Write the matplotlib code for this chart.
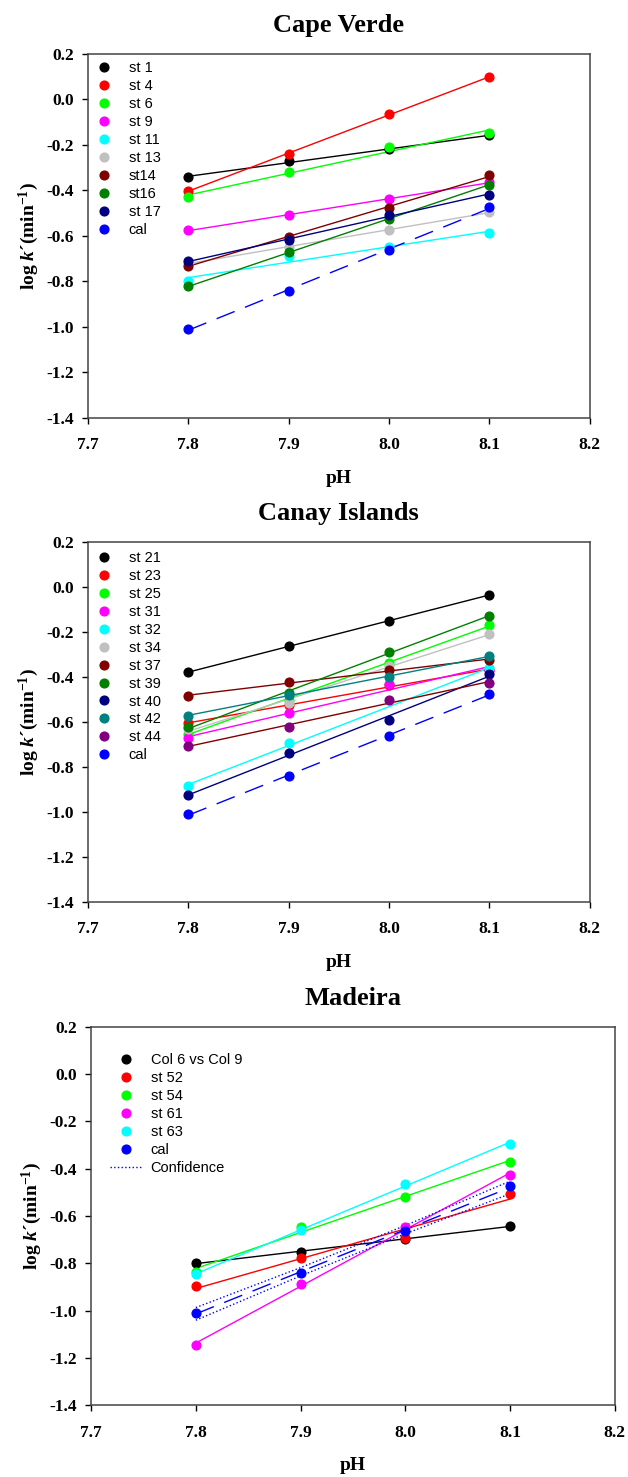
import numpy as np
import matplotlib
matplotlib.use("Agg")
import matplotlib.pyplot as plt
from matplotlib.lines import Line2D

# 字体设置
plt.rcParams['font.family'] = 'Liberation Serif'
plt.rcParams['font.weight'] = 'bold'
plt.rcParams['mathtext.fontset'] = 'custom'
plt.rcParams['mathtext.rm'] = 'Liberation Serif:bold'
plt.rcParams['mathtext.it'] = 'Liberation Serif:bold:italic'
plt.rcParams['mathtext.bf'] = 'Liberation Serif:bold'

ph = [7.8, 7.9, 8.0, 8.1]
cal = [-1.009, -0.841, -0.663, -0.474]

# Cape Verde
cv_names = ['st 1', 'st 4', 'st 6', 'st 9', 'st 11', 'st 13', 'st14', 'st16', 'st 17']
cv_colors = ['#000000', '#ff0000', '#00ff00', '#ff00ff', '#00ffff', '#c0c0c0', '#800000', '#008000', '#000080']
cv_st1 = [-0.341, -0.272, -0.220, -0.158]
cv_st4 = [-0.402, -0.239, -0.066, 0.099]
cv_st6 = [-0.429, -0.320, -0.211, -0.148]
cv_st9 = [-0.575, -0.508, -0.439, -0.364]
cv_st11 = [-0.800, -0.690, -0.647, -0.588]
cv_st13 = [-0.720, -0.647, -0.576, -0.495]
cv_st14 = [-0.730, -0.603, -0.479, -0.333]
cv_st16 = [-0.822, -0.672, -0.526, -0.374]
cv_st17 = [-0.712, -0.617, -0.508, -0.418]
cv_vals = [cv_st1, cv_st4, cv_st6, cv_st9, cv_st11, cv_st13, cv_st14, cv_st16, cv_st17]

# Canay Islands
ci_names = ['st 21', 'st 23', 'st 25', 'st 31', 'st 32', 'st 34', 'st 37', 'st 39', 'st 40', 'st 42', 'st 44']
ci_colors = ['#000000', '#ff0000', '#00ff00', '#ff00ff', '#00ffff', '#c0c0c0', '#800000', '#008000', '#000080', '#008080', '#800080']
ci_line_colors = ['#000000', '#ff0000', '#00ff00', '#ff00ff', '#00ffff', '#c0c0c0', '#800000', '#008000', '#000080', '#008080', '#800000']
ci_st21 = [-0.378, -0.263, -0.152, -0.034]
ci_st23 = [-0.606, -0.525, -0.435, -0.370]
ci_st25 = [-0.651, -0.500, -0.337, -0.170]
ci_st31 = [-0.673, -0.562, -0.432, -0.370]
ci_st32 = [-0.884, -0.695, np.nan, -0.362]
ci_st34 = [-0.630, -0.517, -0.352, -0.207]
ci_st37 = [-0.485, -0.424, -0.367, -0.325]
ci_st39 = [-0.624, -0.473, -0.288, -0.128]
ci_st40 = [-0.924, -0.739, -0.591, -0.387]
ci_st42 = [-0.571, -0.480, -0.399, -0.307]
ci_st44 = [-0.707, -0.621, -0.503, -0.426]
ci_vals = [ci_st21, ci_st23, ci_st25, ci_st31, ci_st32, ci_st34, ci_st37, ci_st39, ci_st40, ci_st42, ci_st44]

# Madeira
md_names = ['Col 6 vs Col 9', 'st 52', 'st 54', 'st 61', 'st 63']
md_colors = ['#000000', '#ff0000', '#00ff00', '#ff00ff', '#00ffff']
md_col6 = [-0.799, -0.752, -0.698, -0.642]
md_st52 = [-0.897, -0.777, -0.691, -0.505]
md_st54 = [-0.837, -0.646, -0.519, -0.371]
md_st61 = [-1.147, -0.889, -0.646, -0.428]
md_st63 = [-0.847, -0.660, -0.463, -0.294]
md_vals = [md_col6, md_st52, md_st54, md_st61, md_st63]

xticks = [7.7, 7.8, 7.9, 8.0, 8.1, 8.2]
yticks = [-1.4, -1.2, -1.0, -0.8, -0.6, -0.4, -0.2, 0.0, 0.2]


def fit(y):
    x = np.array(ph)
    y = np.array(y, dtype=float)
    ok = ~np.isnan(y)
    p = np.polyfit(x[ok], y[ok], 1)
    return x, np.polyval(p, x)


def panel(ax, title, names, colors, vals, lcolors=None, conf=False, legpos=(0.0, 0.98)):
    if lcolors is None:
        lcolors = colors
    handles = []
    for nm, c, lc, v in zip(names, colors, lcolors, vals):
        xf, yf = fit(v)
        ax.plot(xf, yf, '-', color=lc, lw=1.0, zorder=2)
        h, = ax.plot(ph, v, 'o', color=c, ms=6.3, zorder=3, label=nm)
        handles.append(h)
    xf, yf = fit(cal)
    ax.plot(xf, yf, color='#0000ff', lw=1.0, dashes=(14, 8), zorder=2)
    h, = ax.plot(ph, cal, 'o', color='#0000ff', ms=6.3, zorder=3, label='cal')
    handles.append(h)
    if conf:
        # 95% confidence band of the cal regression
        x = np.array(ph)
        y = np.array(cal)
        p = np.polyfit(x, y, 1)
        res = y - np.polyval(p, x)
        s = np.sqrt(np.sum(res ** 2) / (len(x) - 2))
        sxx = np.sum((x - x.mean()) ** 2)
        se = s * np.sqrt(1.0 / len(x) + (x - x.mean()) ** 2 / sxx)
        t = 4.303
        ax.plot(x, np.polyval(p, x) + t * se, ':', color='#0000ff', lw=1.0, zorder=2)
        ax.plot(x, np.polyval(p, x) - t * se, ':', color='#0000ff', lw=1.0, zorder=2)
        handles.append(Line2D([], [], ls=':', color='#0000ff', lw=1.0, label='Confidence'))
    ax.set_xlim(7.7, 8.2)
    ax.set_ylim(-1.4, 0.2)
    ax.set_xticks(xticks)
    ax.set_yticks(yticks)
    ax.set_xticklabels(['%.1f' % t for t in xticks])
    ax.set_yticklabels(['%.1f' % t for t in yticks])
    ax.tick_params(direction='out', length=4, width=1, labelsize=12.5, top=False, right=False)
    ax.tick_params(axis='x', pad=10)
    ax.tick_params(axis='y', pad=6)
    for sp in ax.spines.values():
        sp.set_color('#444444')
        sp.set_linewidth(1.1)
    ax.set_title(title, fontsize=19, fontweight='bold', pad=16)
    ax.set_xlabel('pH', fontsize=14, fontweight='bold', labelpad=12)
    ax.set_ylabel('log $k$´(min$^{-1}$)', fontsize=14, fontweight='bold', labelpad=4)
    ax.legend(handles=handles, loc='upper left', bbox_to_anchor=legpos, frameon=False,
              prop={'family': 'Liberation Sans', 'weight': 'normal', 'size': 10.5},
              handlelength=2.2, handletextpad=0.6, labelspacing=0.27,
              borderpad=0, borderaxespad=0)


fig = plt.figure(figsize=(6.28, 14.77), dpi=100)
ax1 = fig.add_axes([0.140, 0.717, 0.799, 0.2465])
ax2 = fig.add_axes([0.140, 0.3893, 0.799, 0.2437])
ax3 = fig.add_axes([0.145, 0.0487, 0.834, 0.256])

panel(ax1, 'Cape Verde', cv_names, cv_colors, cv_vals, legpos=(0.0, 0.98))
panel(ax2, 'Canay Islands', ci_names, ci_colors, ci_vals, lcolors=ci_line_colors, legpos=(0.0, 0.975))
panel(ax3, 'Madeira', md_names, md_colors, md_vals, conf=True, legpos=(0.036, 0.93))

fig.savefig('out.png', dpi=100)
